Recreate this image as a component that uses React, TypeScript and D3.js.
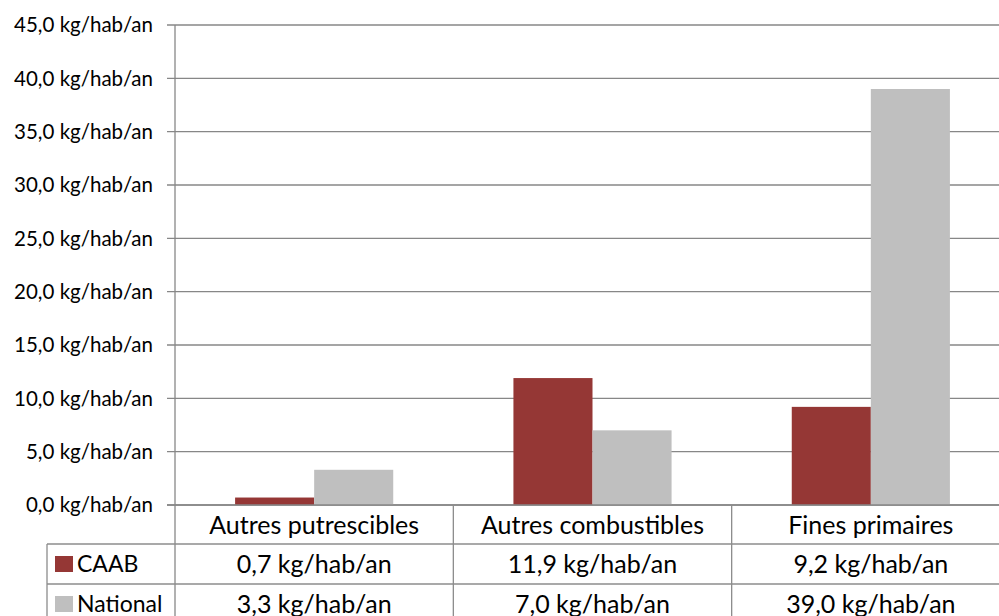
import React from "react";
import * as d3 from "d3";

const categories = ["Autres putrescibles", "Autres combustibles", "Fines primaires"];
const seriesNames = ["CAAB", "National"];
const caabValues = [0.7, 11.9, 9.2];
const nationalValues = [3.3, 7.0, 39.0];
const yTicks = [0, 5, 10, 15, 20, 25, 30, 35, 40, 45];

const seriesColors = ["#953735", "#BFBFBF"];
const W = 999;
const H = 616;
const FONT = "Lato, 'Open Sans', sans-serif";

const fmt = (v: number) => d3.format(".1f")(v).replace(".", ",") + " kg/hab/an";

export default function App() {
  const left = 175;
  const right = 1010;
  const y = d3.scaleLinear().domain([0, 45]).range([505, 25]);
  const x = d3.scaleBand<string>().domain(categories).range([left, right]).paddingInner(0).paddingOuter(0);
  const x1 = d3.scaleBand<string>().domain(seriesNames).range([0, x.bandwidth()]).paddingInner(0).paddingOuter(0.76);
  const series = [caabValues, nationalValues];
  const gridColor = "#878787";
  const tableColor = "#8c8c8c";
  const row1 = 505, row2 = 544, row3 = 584;

  return (
    <div style={{ position: "absolute", left: 0, top: 0 }}>
      <svg width={W} height={H} style={{ display: "block", background: "#fff" }} fontFamily={FONT}>
        <rect x={0} y={0} width={W} height={H} fill="#fff" />
        {yTicks.map((t) => (
          <g key={t}>
            <line x1={167} x2={right} y1={y(t)} y2={y(t)} stroke={gridColor} strokeWidth={1.3} />
            <text x={153} y={y(t)} dy="0.35em" textAnchor="end" fontSize={20.5} fill="#000">
              {fmt(t)}
            </text>
          </g>
        ))}
        {categories.map((c, i) =>
          seriesNames.map((s, j) => (
            <rect
              key={c + s}
              x={(x(c) as number) + (x1(s) as number)}
              y={y(series[j][i])}
              width={x1.bandwidth()}
              height={y(0) - y(series[j][i])}
              fill={seriesColors[j]}
            />
          ))
        )}
        <line x1={left} x2={left} y1={25} y2={H} stroke={gridColor} strokeWidth={1.3} />
        <line x1={167} x2={right} y1={row1} y2={row1} stroke={gridColor} strokeWidth={1.3} />
        <line x1={47} x2={right} y1={row2} y2={row2} stroke={tableColor} strokeWidth={1.3} />
        <line x1={47} x2={right} y1={row3} y2={row3} stroke={tableColor} strokeWidth={1.3} />
        <line x1={47} x2={47} y1={row2} y2={H} stroke={tableColor} strokeWidth={1.3} />
        {categories.map((c) => (
          <line key={"v" + c} x1={(x(c) as number) + x.bandwidth()} x2={(x(c) as number) + x.bandwidth()} y1={row1} y2={H} stroke={tableColor} strokeWidth={1.3} />
        ))}
        {categories.map((c) => (
          <text key={"l" + c} x={(x(c) as number) + x.bandwidth() / 2} y={(row1 + row2) / 2 + 1} dy="0.35em" textAnchor="middle" fontSize={25} fill="#000">
            {c}
          </text>
        ))}
        {seriesNames.map((s, j) => {
          const top = j === 0 ? row2 : row3;
          const cy = top + 20;
          return (
            <g key={"row" + s}>
              <rect x={55} y={cy - 8} width={18} height={16} fill={seriesColors[j]} />
              <text x={77} y={cy} dy="0.35em" fontSize={23} fill="#000">
                {s}
              </text>
              {categories.map((c, i) => (
                <text key={c} x={(x(c) as number) + x.bandwidth() / 2} y={cy} dy="0.35em" textAnchor="middle" fontSize={25} fill="#000">
                  {fmt(series[j][i])}
                </text>
              ))}
            </g>
          );
        })}
      </svg>
    </div>
  );
}
